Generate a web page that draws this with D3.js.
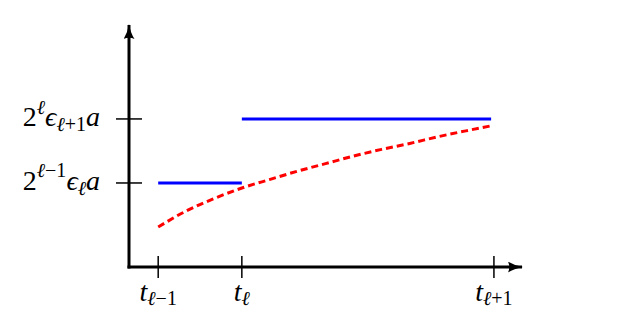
<!DOCTYPE html>
<html>
<head>
<meta charset="utf-8">
<script src="https://cdn.jsdelivr.net/npm/d3@7"></script>
<style>
  body { margin: 0; background: #fff; }
</style>
</head>
<body>
<div id="chart"></div>
<script>
var svgWidth = 624;
var svgHeight = 325;
var serif = "'Liberation Serif', 'Times New Roman', 'DejaVu Serif', serif";

// x positions of the three times (arbitrary units)
var tValues = [0.52, 2.01, 6.5];
var tLabels = [["t", "ℓ", "−1"], ["t", "ℓ", ""], ["t", "ℓ", "+1"]];

// y levels of the two steps
var levelValues = [1.0, 1.762];

// step segments: [x0, x1, level]
var stepSegments = [
  [0.52, 2.01, 1.0],
  [2.01, 6.45, 1.762]
];

// red dashed curve
var curveX = [0.52, 1.0, 1.5, 2.01, 2.5, 3.0, 3.5, 4.0, 4.5, 5.0, 5.5, 6.0, 6.45];
var curveY = [0.476, 0.66, 0.81, 0.94, 1.04, 1.14, 1.23, 1.32, 1.40, 1.47, 1.55, 1.62, 1.68];

var origin = { x: 129, y: 267 };

var xScale = d3.scaleLinear().domain([0, 7]).range([origin.x, 522]);
var yScale = d3.scaleLinear().domain([0, 2.88]).range([origin.y, 25]);

var svg = d3.select("#chart")
  .append("svg")
  .attr("width", svgWidth)
  .attr("height", svgHeight);

// arrow heads (latex style)
var defs = svg.append("defs");
defs.append("marker")
  .attr("id", "arrow")
  .attr("viewBox", "0 0 15 11")
  .attr("refX", 14)
  .attr("refY", 5.5)
  .attr("markerUnits", "userSpaceOnUse")
  .attr("markerWidth", 15)
  .attr("markerHeight", 11)
  .attr("orient", "auto")
  .append("path")
  .attr("d", "M0,0 Q6,4 15,5.5 Q6,7 0,11 Q2.5,5.5 0,0 Z")
  .attr("fill", "#000");

// axes
svg.append("line")
  .attr("x1", xScale(0) - 1.5).attr("y1", yScale(0))
  .attr("x2", xScale(7)).attr("y2", yScale(0))
  .attr("stroke", "#000").attr("stroke-width", 3)
  .attr("marker-end", "url(#arrow)");

svg.append("line")
  .attr("x1", xScale(0)).attr("y1", yScale(0) + 1.5)
  .attr("x2", xScale(0)).attr("y2", yScale(2.88))
  .attr("stroke", "#000").attr("stroke-width", 3)
  .attr("marker-end", "url(#arrow)");

// x ticks crossing the axis
svg.selectAll(".xtick")
  .data(tValues)
  .enter()
  .append("line")
  .attr("class", "xtick")
  .attr("x1", d => xScale(d)).attr("x2", d => xScale(d))
  .attr("y1", yScale(0) - 11).attr("y2", yScale(0) + 11)
  .attr("stroke", "#000").attr("stroke-width", 1.5);

// y ticks crossing the axis
svg.selectAll(".ytick")
  .data(levelValues)
  .enter()
  .append("line")
  .attr("class", "ytick")
  .attr("y1", d => yScale(d)).attr("y2", d => yScale(d))
  .attr("x1", xScale(0) - 13).attr("x2", xScale(0) + 13)
  .attr("stroke", "#000").attr("stroke-width", 1.5);

// x labels
var xLabel = svg.selectAll(".xlabel")
  .data(tValues)
  .enter()
  .append("text")
  .attr("class", "xlabel")
  .attr("x", d => xScale(d))
  .attr("y", 301)
  .attr("text-anchor", "middle")
  .attr("font-family", serif)
  .attr("font-size", 28);

xLabel.append("tspan").attr("font-style", "italic").text((d, i) => tLabels[i][0]);
xLabel.append("tspan")
  .attr("dy", 4)
  .attr("font-size", 20)
  .attr("font-style", "italic")
  .text((d, i) => tLabels[i][1]);
xLabel.append("tspan")
  .attr("font-size", 20)
  .text((d, i) => tLabels[i][2]);

// y labels
function yLabel(level, parts) {
  var t = svg.append("text")
    .attr("x", 100).attr("y", yScale(level) + 7.5)
    .attr("text-anchor", "end")
    .attr("font-family", serif)
    .attr("font-size", 28);
  parts.forEach(function(p) {
    t.append("tspan")
      .attr("dy", p[1])
      .attr("font-size", p[2])
      .attr("font-style", p[3] ? "italic" : "normal")
      .text(p[0]);
  });
}

yLabel(levelValues[1], [
  ["2", 0, 28, false], ["ℓ", -12, 20, true], ["ϵ", 12, 28, true],
  ["ℓ", 5, 20, true], ["+1", 0, 20, false], ["a", -5, 28, true]
]);
yLabel(levelValues[0], [
  ["2", 0, 28, false], ["ℓ", -13, 20, true], ["−1", 0, 20, false],
  ["ϵ", 13, 28, true], ["ℓ", 5, 20, true], ["a", -5, 28, true]
]);

// blue steps
svg.selectAll(".step")
  .data(stepSegments)
  .enter()
  .append("line")
  .attr("class", "step")
  .attr("x1", d => xScale(d[0])).attr("x2", d => xScale(d[1]))
  .attr("y1", d => yScale(d[2])).attr("y2", d => yScale(d[2]))
  .attr("stroke", "#0000ff").attr("stroke-width", 3);

// red dashed curve
var curvePoints = curveX.map((x, i) => [x, curveY[i]]);
var line = d3.line()
  .x(d => xScale(d[0]))
  .y(d => yScale(d[1]))
  .curve(d3.curveMonotoneX);

svg.append("path")
  .datum(curvePoints)
  .attr("d", line)
  .attr("fill", "none")
  .attr("stroke", "#ff0000")
  .attr("stroke-width", 3)
  .attr("stroke-dasharray", "7,4");
</script>
</body>
</html>
